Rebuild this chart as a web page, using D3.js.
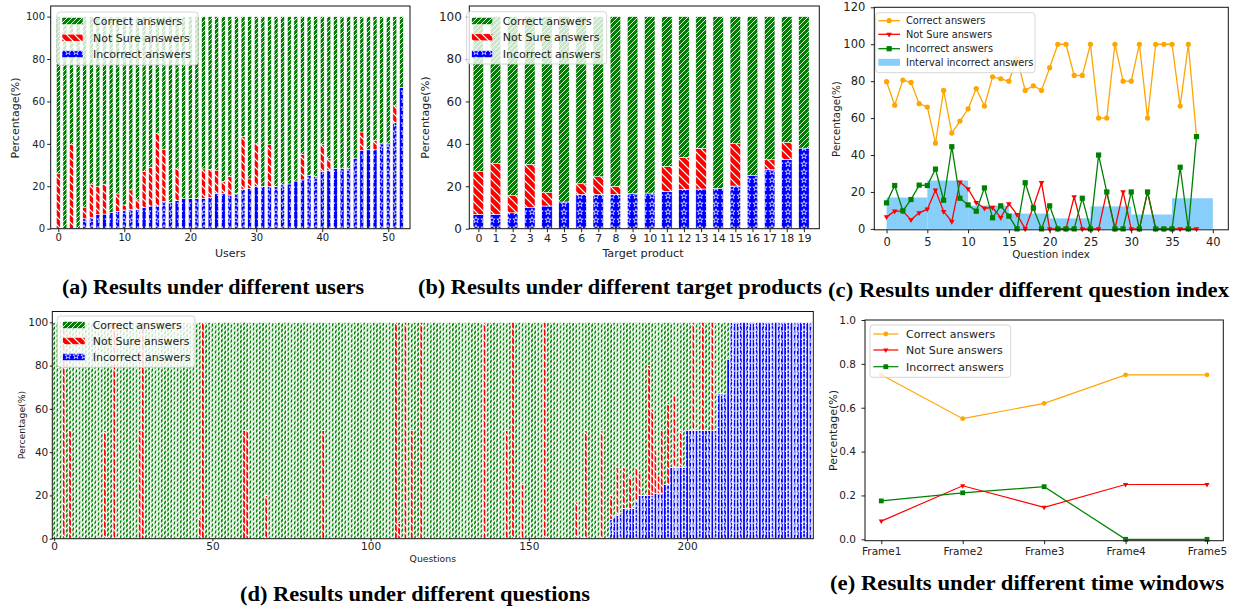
<!DOCTYPE html>
<html>
<head>
<meta charset="utf-8">
<script src="https://cdn.jsdelivr.net/npm/d3@7"></script>
<style>
body { margin: 0; background: #fff; }
text { font-family: "DejaVu Sans", sans-serif; fill: #222; }
.cap { font-family: "Liberation Serif", serif; font-weight: bold; fill: #000; }
</style>
</head>
<body>
<script>
// ---- data ----
var seriesNames = ["Correct answers", "Not Sure answers", "Incorrect answers"];
var intervalName = "Interval incorrect answers";

// (a) users 0..52
var userIncorrect = [0,0,0,0,4.7,5.4,6.6,6.9,7.6,8.2, 8.8,9.1,9.1,10,10.7,10.7,12.8,12.3,13.2,14.3,
  14.3,14.3,14.3,14.8,16.7,16.7,15.9,16.7,18.6,19, 20,20,20,20,20.7,21.1,22.5,23,25,24.6,
  27,27.4,28.5,28.5,28.5,33.3,37,37.2,37.2,40, 40,50,66.7];
var userNotSure = [25.9,0,39.6,0,5.2,15.6,13.3,14.1,0,8.2, 2.4,9.2,4.5,17,18.3,34.1,24.7,0,15,0,
  0,0,13.9,13.2,10.7,5.5,8.7,0,24.9,4.5, 20,0,19.6,0,0,0,0,12,0,0,
  12.6,5.6,0,0,0,0,8.6,0,4.4,0, 0,8,0];

// (b) target products 0..19
var productIncorrect = [6.8,6.8,7.5,9.9,10.7,12.6,16.2,16.2,16.2,16.5, 16.8,17.6,18.6,18.7,19,20.1,25,27.8,32.7,38];
var productNotSure = [20.1,23.9,8.1,20.4,6.3,0,5,8.3,3.8,0, 0,11.8,15,19.2,0,20,0,4.7,8,0];

// (c) question index 0..38
var idxCorrect = [79.7,67,80.6,79.3,67.8,66,46.4,75,51.9,58.4, 65,76,66.5,82.4,81.3,80,92.2,75,77.5,75,
  87.3,100,100,83.1,83.1,100,60,60,100,80, 80,100,60,100,100,100,66.5,100,50];
var idxNotSure = [6.5,9.6,9.6,4.9,8.7,10.7,21,9.4,4,25.3, 21.7,14.3,11.2,11.6,6.1,13.6,7.8,0,12,25,
  0,0,0,17.4,0,0,0,20,0,20, 0,0,20,0,0,0,0,0,0];
var idxIncorrect = [14.1,23.5,9.8,15.9,23.7,23.5,32.4,15.5,44.5,16.6, 13,9.6,22.2,6,12.5,6.9,0,25,11.2,0,
  12.5,0,0,0,16.6,0,40,20,0,0, 20,0,20,0,0,0,33.4,0,50];
var intervalStart = [0,5,10,15,20,25,30,35];
var intervalIncorrect = [17,26.2,12.6,8.3,5.7,12.2,7.8,16.6];

// (d) questions 0..239
var questionNotSure = [
  0,0,0,100,0,50,0,0,0,0, 0,0,0,0,0,0,50,0,0,100,
  0,0,0,0,0,0,0,50,100,0, 0,0,0,0,0,0,0,0,0,0,
  0,0,0,0,0,0,10,100,0,0, 0,0,0,0,0,0,0,0,0,0,
  50,50,0,0,0,0,0,20,0,0, 0,0,0,0,0,0,0,0,0,0,
  0,0,0,0,0,50,0,0,0,0, 0,0,0,0,0,0,0,0,0,0,
  0,0,0,0,0,0,0,0,100,7, 0,100,0,50,0,0,100,0,0,0,
  0,0,0,0,0,0,0,0,0,0, 0,0,0,0,0,0,100,0,0,0,
  0,0,0,50,0,100,0,0,25,0, 0,0,0,0,0,100,0,0,0,0,
  0,0,0,0,0,17,0,0,50,0, 0,0,0,50,0,0,11,0,22,0,
  19,0,15,0,16,10,0,0,60,40, 20,8,29,0,37,0,33,0,17,0,
  0,0,50,0,0,50,0,0,50,0, 0,0,0,0,0,0,0,0,0,0,
  0,0,0,0,0,0,0,0,0,0, 0,0,0,0,0,0,0,0,0,0];
var questionIncorrect = [
  0,0,0,0,0,0,0,0,0,0, 0,0,0,0,0,0,0,0,0,0,
  0,0,0,0,0,0,0,0,0,0, 0,0,0,0,0,0,0,0,0,0,
  0,0,0,0,0,0,0,0,0,0, 0,0,0,0,0,0,0,0,0,0,
  0,0,0,0,0,0,0,0,0,0, 0,0,0,0,0,0,0,0,0,0,
  0,0,0,0,0,0,0,0,0,0, 0,0,0,0,0,0,0,0,0,0,
  0,0,0,0,0,0,0,0,0,0, 0,0,0,0,0,0,0,0,0,0,
  0,0,0,0,0,0,0,0,0,0, 0,0,0,0,0,0,0,0,0,0,
  0,0,0,0,0,0,0,0,0,0, 0,0,0,0,0,0,0,0,0,0,
  0,0,0,0,0,0,0,0,0,0, 0,0,0,0,0,0,9,10,11,12,
  14,14,14,14,17,20,20,20,20,20, 21,21,21,25,25,33,33,33,33,33,
  50,50,50,50,50,50,50,50,50,50, 67,67,67,83,100,100,100,100,100,100,
  100,100,100,100,100,100,100,100,100,100, 100,100,100,100,100,100,100,100,100,100];

// (e) time windows
var frames = ["Frame1", "Frame2", "Frame3", "Frame4", "Frame5"];
var frameCorrect = [0.75, 0.55, 0.62, 0.75, 0.75];
var frameNotSure = [0.083, 0.244, 0.146, 0.25, 0.25];
var frameIncorrect = [0.175, 0.212, 0.24, 0, 0];

var captions = [
  "(a) Results under different users",
  "(b) Results under different target products",
  "(c) Results under different question index",
  "(d) Results under different questions",
  "(e) Results under different time windows"
];

// ---- drawing ----
var svg = d3.select("body").append("svg")
    .attr("width", 1239)
    .attr("height", 609);

var defs = svg.append("defs");

function hatch(id, color, size, d, sw){
  var p = defs.append("pattern")
      .attr("id", id)
      .attr("patternUnits", "userSpaceOnUse")
      .attr("width", size)
      .attr("height", size);
  p.append("rect").attr("width", size).attr("height", size).attr("fill", color);
  p.append("path").attr("d", d).attr("stroke", "#fff").attr("stroke-width", sw).attr("fill", "none");
}
hatch("pGreen", "#008000", 5, "M-1,1L1,-1M0,5L5,0M4,6L6,4", 0.9);
hatch("pGreenD", "#0a8a0a", 5, "M-1,1L1,-1M0,5L5,0M4,6L6,4", 1.3);
hatch("pRed", "#ff0000", 8, "M-1,7L1,9M0,0L8,8M7,-1L9,1", 1.2);

var star = defs.append("pattern")
    .attr("id", "pStar")
    .attr("patternUnits", "userSpaceOnUse")
    .attr("width", 8)
    .attr("height", 8);
star.append("rect").attr("width", 8).attr("height", 8).attr("fill", "#0000ff");
star.append("path")
    .attr("d", d3.symbol(d3.symbolStar, 12)())
    .attr("transform", "translate(4,4)")
    .attr("fill", "none")
    .attr("stroke", "#fff")
    .attr("stroke-width", 0.7);

var layerFill = {inc: "url(#pStar)", ns: "url(#pRed)", cor: "url(#pGreen)"};

function styleAxis(a, size){
  a.select(".domain").remove();
  a.selectAll("text").style("font-size", size + "px");
  a.attr("color", "#222");
}

function frame(g, c){
  g.append("rect")
      .attr("x", c.x0).attr("y", c.y0)
      .attr("width", c.x1 - c.x0).attr("height", c.fy1 - c.y0)
      .attr("fill", "none")
      .attr("stroke", "#111")
      .attr("stroke-width", 1);
}

function labels(g, c){
  if (c.xLabel) g.append("text")
      .attr("x", c.xLabel[1]).attr("y", c.xLabel[2])
      .style("text-anchor", "middle")
      .style("font-size", c.labelFont + "px")
      .text(c.xLabel[0]);
  g.append("text")
      .attr("transform", "translate(" + c.yLabel[0] + "," + c.yLabel[1] + ") rotate(-90)")
      .style("text-anchor", "middle")
      .style("font-size", c.labelFont + "px")
      .text("Percentage(%)");
}

function legendBox(g, box){
  g.append("rect")
      .attr("x", box[0]).attr("y", box[1])
      .attr("width", box[2] - box[0]).attr("height", box[3] - box[1])
      .attr("rx", 3)
      .attr("fill", "#fff").attr("fill-opacity", 0.8)
      .attr("stroke", "#ccc").attr("stroke-width", 0.8);
}

function marker(g, type, cx, cy, color, s){
  if (type == "o"){
    g.append("circle").attr("cx", cx).attr("cy", cy).attr("r", s / 2).attr("fill", color);
  } else if (type == "v"){
    g.append("path")
        .attr("d", d3.symbol(d3.symbolTriangle, s * s * 0.5)())
        .attr("transform", "translate(" + cx + "," + cy + ") rotate(180)")
        .attr("fill", color);
  } else {
    g.append("rect").attr("x", cx - s / 2).attr("y", cy - s / 2).attr("width", s).attr("height", s).attr("fill", color);
  }
}

function barPanel(c){
  var g = svg.append("g");
  var x = d3.scaleLinear().domain(c.xDomain).range([c.x0, c.x1]);
  var y = d3.scaleLinear().domain([0, 105]).range([c.y1, c.y0]);
  var fills = Object.assign({}, layerFill, c.fills || {});

  var rows = c.incorrect.map(function(v, i){
    return {idx: i, inc: v, ns: c.notSure[i], cor: 100 - v - c.notSure[i]};
  });
  var series = d3.stack().keys(["inc", "ns", "cor"])(rows);
  var bw = x(c.barWidth) - x(0);

  g.selectAll(".layer")
      .data(series)
    .enter().append("g")
      .attr("class", "layer")
      .attr("fill", function(s){ return fills[s.key]; })
    .selectAll("rect")
      .data(function(s){ return s.filter(function(d){ return d[1] - d[0] > 0; }); })
    .enter().append("rect")
      .attr("x", function(d){ return x(d.data.idx) - bw / 2; })
      .attr("width", bw)
      .attr("y", function(d){ return y(d[1]); })
      .attr("height", function(d){ return y(d[0]) - y(d[1]); })
      .attr("stroke", "#fff")
      .attr("stroke-width", c.edge);

  g.append("g")
      .attr("transform", "translate(0," + c.y1 + ")")
      .call(d3.axisBottom(x).tickValues(c.xTicks).tickSize(c.tick).tickPadding(c.xPad).tickFormat(d3.format("d")))
      .call(styleAxis, c.xTickFont || c.tickFont);
  g.append("g")
      .attr("transform", "translate(" + c.x0 + ",0)")
      .call(d3.axisLeft(y).tickValues([0, 20, 40, 60, 80, 100]).tickSize(c.tick).tickPadding(c.yPad))
      .call(styleAxis, c.tickFont);

  c.fy1 = c.y1;
  frame(g, c);
  labels(g, c);

  var lg = g.append("g");
  legendBox(lg, c.legend.box);
  var keys = ["cor", "ns", "inc"];
  seriesNames.forEach(function(name, i){
    var ly = c.legend.rows[i];
    lg.append("rect")
        .attr("x", c.legend.hx[0]).attr("y", ly - 3.5)
        .attr("width", c.legend.hx[1] - c.legend.hx[0]).attr("height", 7)
        .attr("fill", layerFill[keys[i]])
        .attr("stroke", "#fff").attr("stroke-width", 0.5);
    lg.append("text")
        .attr("x", c.legend.tx).attr("y", ly).attr("dy", "0.35em")
        .style("font-size", c.legendFont + "px")
        .text(name);
  });
}

// (a)
barPanel({
  x0: 50.7, x1: 410, y0: 6, y1: 228.7,
  xDomain: [-1.15, 53.3], barWidth: 0.6, edge: 0.6,
  incorrect: userIncorrect, notSure: userNotSure,
  xTicks: [0, 10, 20, 30, 40, 50], tick: 3.5, xPad: 1.8, yPad: 2.2,
  tickFont: 10, labelFont: 11, legendFont: 11,
  xLabel: ["Users", 230.4, 257], yLabel: [19, 118],
  legend: {box: [57, 12, 198, 65], rows: [21, 37.7, 54], hx: [62, 83], tx: 93}
});

// (b)
barPanel({
  x0: 469.3, x1: 819.3, y0: 6, y1: 228.7,
  xDomain: [-0.53, 19.9], barWidth: 0.62, edge: 0.6,
  incorrect: productIncorrect, notSure: productNotSure,
  xTicks: d3.range(20), tick: 3.5, xPad: 2.5, yPad: 4,
  tickFont: 12, xTickFont: 11, labelFont: 11.2, legendFont: 11,
  xLabel: ["Target product", 643, 257], yLabel: [429, 117.5],
  legend: {box: [466.7, 11.7, 606.7, 64], rows: [21, 37.3, 54], hx: [471.7, 492.7], tx: 502.7}
});

// (d)
barPanel({
  x0: 52.3, x1: 813.3, y0: 311.5, y1: 538.7,
  xDomain: [-0.6, 239.9], barWidth: 0.8, edge: 0.7,
  fills: {cor: "url(#pGreenD)"},
  incorrect: questionIncorrect, notSure: questionNotSure,
  xTicks: [0, 50, 100, 150, 200], tick: 2.5, xPad: 1.5, yPad: 1.5,
  tickFont: 10.5, labelFont: 9.3, legendFont: 11,
  xLabel: ["Questions", 432.8, 561.7], yLabel: [24.5, 425],
  legend: {box: [57.3, 316, 195, 367.3], rows: [325, 341, 357], hx: [62.7, 85], tx: 92.7}
});

function linePanel(c){
  var g = svg.append("g");
  var x = d3.scaleLinear().domain(c.xDomain).range([c.x0, c.x1]);
  var y = d3.scaleLinear().domain(c.yDomain).range([c.y1, c.y0]);

  if (c.bars){
    g.selectAll(".ibar")
        .data(c.bars.start)
      .enter().append("rect")
        .attr("class", "ibar")
        .attr("x", function(d){ return x(d); })
        .attr("width", x(5) - x(0))
        .attr("y", function(d, i){ return y(c.bars.values[i]); })
        .attr("height", function(d, i){ return y(0) - y(c.bars.values[i]); })
        .attr("fill", "#87cefa");
  }

  var line = d3.line()
      .x(function(d, i){ return x(i); })
      .y(function(d){ return y(d); });

  c.series.forEach(function(s){
    g.append("path")
        .datum(s.values)
        .attr("d", line)
        .attr("fill", "none")
        .attr("stroke", s.color)
        .attr("stroke-width", c.lw);
    s.values.forEach(function(v, i){ marker(g, s.marker, x(i), y(v), s.color, c.ms); });
  });

  var xa = d3.axisBottom(x).tickValues(c.xTicks).tickSize(3.5).tickPadding(c.xPad);
  if (c.xFormat) xa.tickFormat(c.xFormat);
  g.append("g")
      .attr("transform", "translate(0," + c.fy1 + ")")
      .call(xa)
      .call(styleAxis, c.tickFont);
  g.append("g")
      .attr("transform", "translate(" + c.x0 + ",0)")
      .call(d3.axisLeft(y).tickValues(c.yTicks).tickSize(3.5).tickPadding(c.yPad).tickFormat(c.yFormat))
      .call(styleAxis, c.tickFont);

  frame(g, c);
  labels(g, c);

  var lg = g.append("g");
  legendBox(lg, c.legend.box);
  c.series.forEach(function(s, i){
    var ly = c.legend.rows[i];
    lg.append("line")
        .attr("x1", c.legend.hx[0]).attr("x2", c.legend.hx[1])
        .attr("y1", ly).attr("y2", ly)
        .attr("stroke", s.color).attr("stroke-width", c.lw);
    marker(lg, s.marker, (c.legend.hx[0] + c.legend.hx[1]) / 2, ly, s.color, c.ms);
    lg.append("text")
        .attr("x", c.legend.tx).attr("y", ly).attr("dy", "0.35em")
        .style("font-size", c.legendFont + "px")
        .text(s.name);
  });
  if (c.bars){
    var ly = c.legend.rows[3];
    lg.append("rect")
        .attr("x", c.legend.hx[0]).attr("y", ly - 3.5)
        .attr("width", c.legend.hx[1] - c.legend.hx[0]).attr("height", 7)
        .attr("fill", "#87cefa");
    lg.append("text")
        .attr("x", c.legend.tx).attr("y", ly).attr("dy", "0.35em")
        .style("font-size", c.legendFont + "px")
        .text(intervalName);
  }
}

// (c)
linePanel({
  x0: 874.3, x1: 1228.3, y0: 7.3, y1: 228.9, fy1: 229.8,
  xDomain: [-1.5, 41.9], yDomain: [0, 120],
  bars: {start: intervalStart, values: intervalIncorrect},
  series: [
    {name: seriesNames[0], values: idxCorrect, color: "#ffa500", marker: "o"},
    {name: seriesNames[1], values: idxNotSure, color: "#ff0000", marker: "v"},
    {name: seriesNames[2], values: idxIncorrect, color: "#008000", marker: "s"}
  ],
  lw: 1.3, ms: 5.2,
  xTicks: [0, 5, 10, 15, 20, 25, 30, 35, 40], yTicks: [0, 20, 40, 60, 80, 100, 120],
  yFormat: d3.format("d"), xPad: 5, yPad: 5.5,
  tickFont: 11.5, labelFont: 10.3, legendFont: 9.8,
  xLabel: ["Question index", 1051, 258], yLabel: [839.5, 119],
  legend: {box: [875.7, 12.7, 1035, 72.7], rows: [20.7, 34.3, 48.7, 62.3], hx: [878.3, 900], tx: 906}
});

// (e)
linePanel({
  x0: 865, x1: 1223.3, y0: 320, y1: 539.3, fy1: 540.7,
  xDomain: [-0.2, 4.2], yDomain: [0, 1],
  series: [
    {name: seriesNames[0], values: frameCorrect, color: "#ffa500", marker: "o"},
    {name: seriesNames[1], values: frameNotSure, color: "#ff0000", marker: "v"},
    {name: seriesNames[2], values: frameIncorrect, color: "#008000", marker: "s"}
  ],
  lw: 1.2, ms: 4.8,
  xTicks: d3.range(frames.length), xFormat: function(i){ return frames[i]; },
  yTicks: [0, 0.2, 0.4, 0.6, 0.8, 1.0], yFormat: d3.format(".1f"),
  xPad: 3.5, yPad: 5.5,
  tickFont: 10.5, labelFont: 11, legendFont: 11,
  xLabel: null, yLabel: [837, 430.5],
  legend: {box: [870, 325, 1010.7, 377.3], rows: [334, 350, 366.7], hx: [873.3, 898.3], tx: 906}
});

// captions (bold serif, stretched to the widths seen in the figure)
var capPos = [[213, 294, 302], [620, 294, 404], [1028.5, 297, 401], [415, 601, 350], [1027, 590, 394]];
svg.selectAll(".cap")
    .data(captions)
  .enter().append("text")
    .attr("class", "cap")
    .attr("x", function(d, i){ return capPos[i][0] - capPos[i][2] / 2; })
    .attr("y", function(d, i){ return capPos[i][1]; })
    .attr("textLength", function(d, i){ return capPos[i][2]; })
    .attr("lengthAdjust", "spacingAndGlyphs")
    .style("font-size", "20px")
    .text(function(d){ return d; });
</script>
</body>
</html>
